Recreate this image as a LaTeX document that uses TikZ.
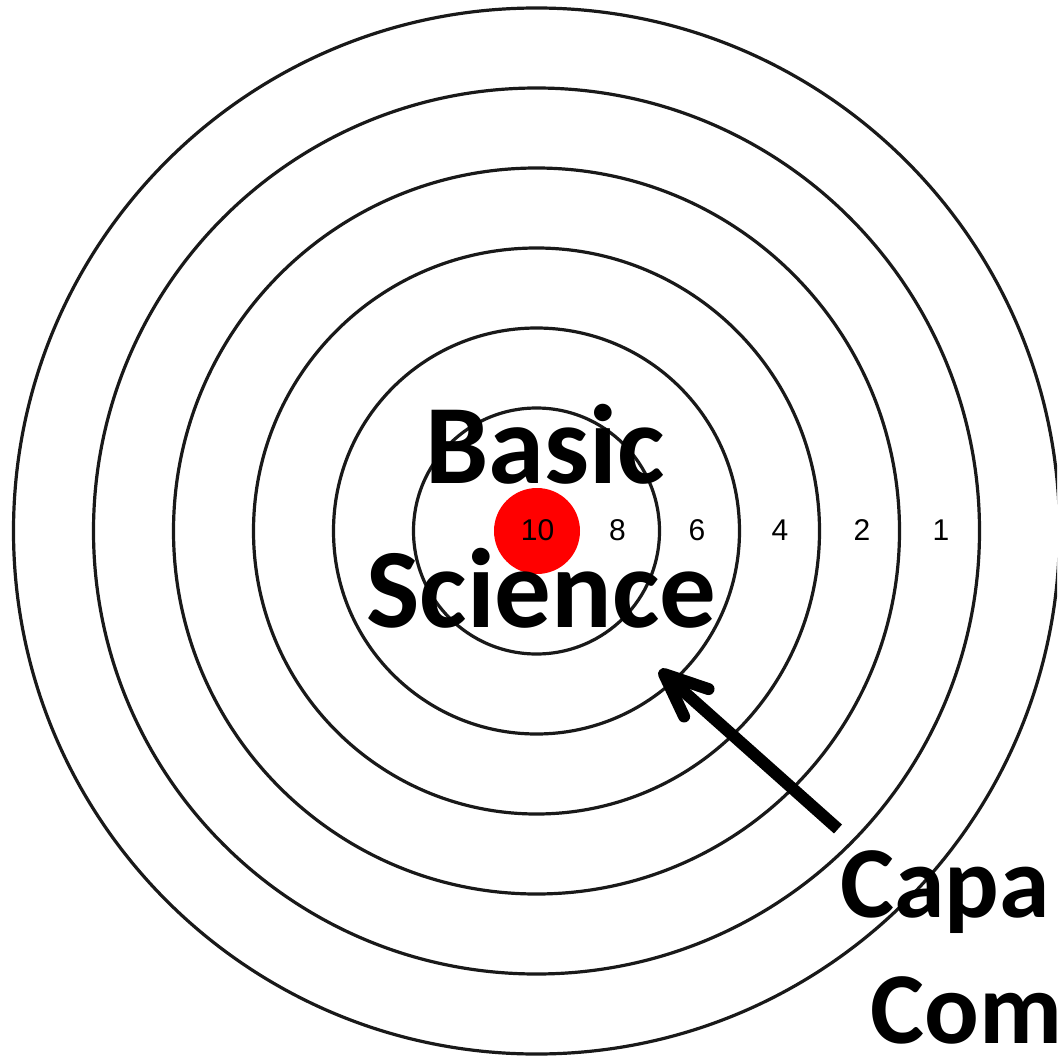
\documentclass[tikz,border=0pt]{standalone}
\usepackage{fontspec}
\setmainfont{Carlito}
\newfontfamily\numfont{Liberation Sans}
\usetikzlibrary{calc}
\begin{document}
\begin{tikzpicture}[x=1pt,y=-1pt,
  ring/.style={circle, draw=black!90, line width=3.2pt, inner sep=0pt, outer sep=0pt},
  score/.style={font=\numfont\fontsize{30}{30}\selectfont, inner sep=0pt, text=black},
  bigtext/.style={font=\bfseries\fontsize{113}{134}\selectfont, inner sep=0pt, anchor=base},
  sidetext/.style={font=\bfseries\fontsize{102}{124}\selectfont, inner sep=0pt, anchor=base west},
  pointer/.style={line width=12pt, draw=black},
]
\useasboundingbox (0,0) rectangle (1057,1059);
\fill[white] (0,0) rectangle (1057,1059);
\clip (0,0) rectangle (1057,1059);
\coordinate (c) at (536.5,531);
\foreach \r/\n in {523/r1,443/r2,363/r3,283/r4,203/r5,123/r6}
  \node[ring, minimum size={(2*\r)*1pt}] (\n) at (c) {};
\node[circle, fill=red, minimum size=86pt, inner sep=0pt] (bull) at (537,531) {};
\node[score] (s10) at (537.5,530) {10};
\node[score] (s8) at (617.5,530) {8};
\node[score] (s6) at (697,530) {6};
\node[score] (s4) at (780,530) {4};
\node[score] (s2) at (862,530) {2};
\node[score] (s1) at (941,530) {1};
\node[bigtext] (basic) at (545,483) {Basic};
\node[bigtext] (science) at (541.5,627) {Science};
\node[sidetext] (capa) at (840,917) {Capa};
\node[sidetext] (com) at (870,1043) {Com};
\coordinate (tail) at (838,829);
\coordinate (tip) at (664,674);
\draw[pointer, line cap=butt] (tail) -- (tip);
\draw[pointer, line cap=round, line join=round] ($(tip)!47pt!23:(tail)$) -- (tip) -- ($(tip)!47pt!-23:(tail)$);
\end{tikzpicture}
\end{document}
